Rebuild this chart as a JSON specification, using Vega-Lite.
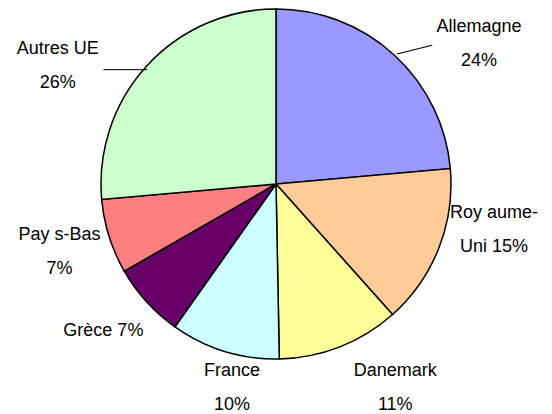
{
  "$schema": "https://vega.github.io/schema/vega-lite/v6.json",
  "width": 552,
  "height": 368,
  "padding": {"left": 0, "top": 0, "right": 0, "bottom": 46},
  "autosize": {"type": "none"},
  "background": "white",
  "config": {
    "view": {"stroke": null},
    "text": {"font": "Liberation Sans", "fontSize": 18, "lineHeight": 34, "fill": "black"}
  },
  "data": {
    "values": [
      {"pays": "Allemagne", "part": 23.6, "ordre": 1, "etiquette": ["Allemagne", "24%"]},
      {"pays": "Royaume-Uni", "part": 14.8, "ordre": 2, "etiquette": ["Roy aume-", "Uni 15%"]},
      {"pays": "Danemark", "part": 11.3, "ordre": 3, "etiquette": ["Danemark", "11%"]},
      {"pays": "France", "part": 10.1, "ordre": 4, "etiquette": ["France", "10%"]},
      {"pays": "Grèce", "part": 6.9, "ordre": 5, "etiquette": ["Grèce 7%"]},
      {"pays": "Pays-Bas", "part": 6.9, "ordre": 6, "etiquette": ["Pay s-Bas", "7%"]},
      {"pays": "Autres UE", "part": 26.4, "ordre": 7, "etiquette": ["Autres UE", "26%"]}
    ]
  },
  "encoding": {
    "theta": {"field": "part", "type": "quantitative", "stack": true},
    "order": {"field": "ordre", "type": "quantitative"},
    "detail": {"field": "pays", "type": "nominal"}
  },
  "layer": [
    {
      "mark": {"type": "arc", "radius": 175, "stroke": "black", "strokeWidth": 1.5},
      "encoding": {
        "color": {
          "field": "pays",
          "type": "nominal",
          "scale": {
            "domain": ["Allemagne", "Royaume-Uni", "Danemark", "France", "Grèce", "Pays-Bas", "Autres UE"],
            "range": ["#9999FF", "#FFCC99", "#FFFF99", "#CCFFFF", "#660066", "#FF8080", "#CCFFCC"]
          },
          "legend": null
        }
      }
    },
    {
      "mark": {"type": "text", "radius": 175, "align": "left", "angle": -14, "font": "DejaVu Sans Mono", "fontSize": 12, "dx": 3},
      "encoding": {"text": {"condition": {"test": "datum.pays === 'Allemagne'", "value": "─────"}, "value": ""}}
    },
    {
      "mark": {"type": "text", "radius": 175, "align": "right", "font": "DejaVu Sans Mono", "fontSize": 12, "dy": 4},
      "encoding": {"text": {"condition": {"test": "datum.pays === 'Autres UE'", "value": "──────"}, "value": ""}}
    },
    {
      "mark": {"type": "text", "radius": 228, "dx": 49, "dy": 11},
      "encoding": {"text": {"condition": {"test": "datum.pays === 'Allemagne'", "field": "etiquette"}, "value": ""}}
    },
    {
      "mark": {"type": "text", "radius": 228, "dx": 6, "dy": -55},
      "encoding": {"text": {"condition": {"test": "datum.pays === 'Royaume-Uni'", "field": "etiquette"}, "value": ""}}
    },
    {
      "mark": {"type": "text", "radius": 228, "dx": 36, "dy": -25},
      "encoding": {"text": {"condition": {"test": "datum.pays === 'Danemark'", "field": "etiquette"}, "value": ""}}
    },
    {
      "mark": {"type": "text", "radius": 228, "dx": 23, "dy": -31},
      "encoding": {"text": {"condition": {"test": "datum.pays === 'France'", "field": "etiquette"}, "value": ""}}
    },
    {
      "mark": {"type": "text", "radius": 228, "dx": -4, "dy": -6},
      "encoding": {"text": {"condition": {"test": "datum.pays === 'Grèce'", "field": "etiquette"}, "value": ""}}
    },
    {
      "mark": {"type": "text", "radius": 228, "dx": 1, "dy": -17},
      "encoding": {"text": {"condition": {"test": "datum.pays === 'Pays-Bas'", "field": "etiquette"}, "value": ""}}
    },
    {
      "mark": {"type": "text", "radius": 228, "dx": -50, "dy": 19},
      "encoding": {"text": {"condition": {"test": "datum.pays === 'Autres UE'", "field": "etiquette"}, "value": ""}}
    }
  ]
}
